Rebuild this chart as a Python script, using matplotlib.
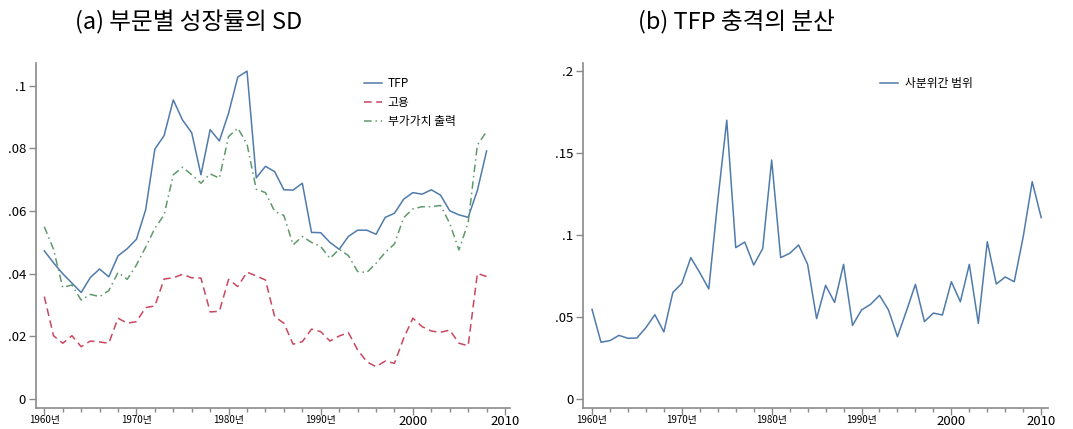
import numpy as np
import matplotlib
matplotlib.use('Agg')
import matplotlib.pyplot as plt
from matplotlib.ticker import MultipleLocator

plt.rcParams['font.family'] = ['Noto Sans CJK KR', 'DejaVu Sans']

# (a) sectoral growth SD, 1960-2008
years_a = np.arange(1960, 2009)
tfp = [0.0473, 0.0435, 0.0400, 0.0370, 0.0340, 0.0388, 0.0415, 0.0390, 0.0457, 0.0480,
       0.0510, 0.0604, 0.0798, 0.0841, 0.0955, 0.0891, 0.0850, 0.0716, 0.0860, 0.0824,
       0.0913, 0.1028, 0.1047, 0.0706, 0.0743, 0.0726, 0.0668, 0.0667, 0.0689, 0.0532,
       0.0531, 0.0500, 0.0478, 0.0519, 0.0539, 0.0539, 0.0526, 0.0580, 0.0593, 0.0638,
       0.0659, 0.0654, 0.0668, 0.0651, 0.0601, 0.0588, 0.0580, 0.0666, 0.0792]
employment = [0.0327, 0.0202, 0.0178, 0.0202, 0.0167, 0.0185, 0.0182, 0.0178, 0.0258, 0.0242,
              0.0247, 0.0292, 0.0297, 0.0383, 0.0387, 0.0398, 0.0387, 0.0386, 0.0278, 0.0280,
              0.0382, 0.0359, 0.0405, 0.0393, 0.0380, 0.0263, 0.0242, 0.0175, 0.0183, 0.0223,
              0.0215, 0.0185, 0.0201, 0.0212, 0.0157, 0.0119, 0.0103, 0.0121, 0.0114, 0.0194,
              0.0258, 0.0231, 0.0217, 0.0213, 0.0220, 0.0178, 0.0170, 0.0401, 0.0391]
value_added = [0.0550, 0.0478, 0.0356, 0.0364, 0.0316, 0.0334, 0.0327, 0.0346, 0.0404, 0.0382,
               0.0428, 0.0485, 0.0545, 0.0588, 0.0716, 0.0740, 0.0716, 0.0689, 0.0719, 0.0705,
               0.0838, 0.0865, 0.0814, 0.0670, 0.0659, 0.0599, 0.0586, 0.0492, 0.0519, 0.0500,
               0.0487, 0.0449, 0.0478, 0.0458, 0.0407, 0.0404, 0.0433, 0.0468, 0.0495, 0.0579,
               0.0607, 0.0614, 0.0614, 0.0618, 0.0561, 0.0476, 0.0563, 0.0811, 0.0854]

# (b) variance of TFP shocks (interquartile range), 1960-2010
years_b = np.arange(1960, 2011)
iqr = [0.0547, 0.0346, 0.0356, 0.0388, 0.0370, 0.0372, 0.0435, 0.0514, 0.0409, 0.0650,
       0.0705, 0.0862, 0.0770, 0.0671, 0.1210, 0.1700, 0.0923, 0.0957, 0.0817, 0.0917,
       0.1457, 0.0862, 0.0888, 0.0939, 0.0821, 0.0490, 0.0693, 0.0589, 0.0821, 0.0449,
       0.0543, 0.0577, 0.0632, 0.0543, 0.0380, 0.0537, 0.0699, 0.0472, 0.0524, 0.0512,
       0.0715, 0.0593, 0.0821, 0.0461, 0.0959, 0.0701, 0.0744, 0.0715, 0.0990, 0.1325,
       0.1106]

xtick_pos = [1960, 1970, 1980, 1990, 2000, 2010]
xtick_labels = ['1960년', '1970년', '1980년', '1990년', '2000', '2010']

BLUE = '#4f7bac'
RED = '#c9475f'
GREEN = '#5f9a6c'
AXIS = '#8a8a8a'


def style_axis(ax, yticks, ylabels):
    for s in ['top', 'right']:
        ax.spines[s].set_visible(False)
    for s in ['left', 'bottom']:
        ax.spines[s].set_color(AXIS)
        ax.spines[s].set_linewidth(1.2)
    ax.set_yticks(yticks)
    ax.set_yticklabels(ylabels, fontsize=9.5)
    ax.set_xticks(xtick_pos)
    ax.set_xticklabels(xtick_labels)
    for lab in ax.get_xticklabels():
        lab.set_fontsize(7 if lab.get_text().endswith('년') else 9.5)
    ax.xaxis.set_minor_locator(MultipleLocator(2))
    ax.tick_params(axis='y', which='major', color=AXIS, length=5, width=1, pad=2)
    ax.tick_params(axis='x', which='major', color=AXIS, length=5, width=1, pad=0.5)
    ax.tick_params(axis='x', which='minor', color=AXIS, length=3, width=1)


fig = plt.figure(figsize=(10.73, 4.29), dpi=100)

ax1 = fig.add_axes([0.0333, 0.0497, 0.442, 0.8035])
ax1.plot(years_a, tfp, color=BLUE, lw=1.1, label='TFP')
ax1.plot(years_a, employment, color=RED, lw=1.1, dashes=(5, 3), label='고용')
ax1.plot(years_a, value_added, color=GREEN, lw=1.1, dashes=(5, 2.5, 1, 2.5), label='부가가치 출력')
ax1.set_xlim(1959.07, 2010.54)
ax1.set_ylim(-0.00278, 0.1073)
style_axis(ax1, [0, 0.02, 0.04, 0.06, 0.08, 0.1], ['0', '.02', '.04', '.06', '.08', '.1'])
ax1.legend(loc='upper left', bbox_to_anchor=(0.67, 0.99), frameon=False, fontsize=8.5,
           handlelength=1.5, handletextpad=0.5, labelspacing=0.5)

ax2 = fig.add_axes([0.5436, 0.0497, 0.4333, 0.8035])
ax2.plot(years_b, iqr, color=BLUE, lw=1.1, label='사분위간 범위')
ax2.set_xlim(1959.03, 2010.78)
ax2.set_ylim(-0.0053, 0.2049)
style_axis(ax2, [0, 0.05, 0.1, 0.15, 0.2], ['0', '.05', '.1', '.15', '.2'])
ax2.legend(loc='upper left', bbox_to_anchor=(0.615, 0.99), frameon=False, fontsize=8.5,
           handlelength=1.5, handletextpad=0.6)

fig.text(0.0699, 0.948, '(a) 부문별 성장률의 SD', fontsize=17, va='center', ha='left')
fig.text(0.5946, 0.948, '(b) TFP 충격의 분산', fontsize=17, va='center', ha='left')

fig.savefig('out.png', dpi=100)
